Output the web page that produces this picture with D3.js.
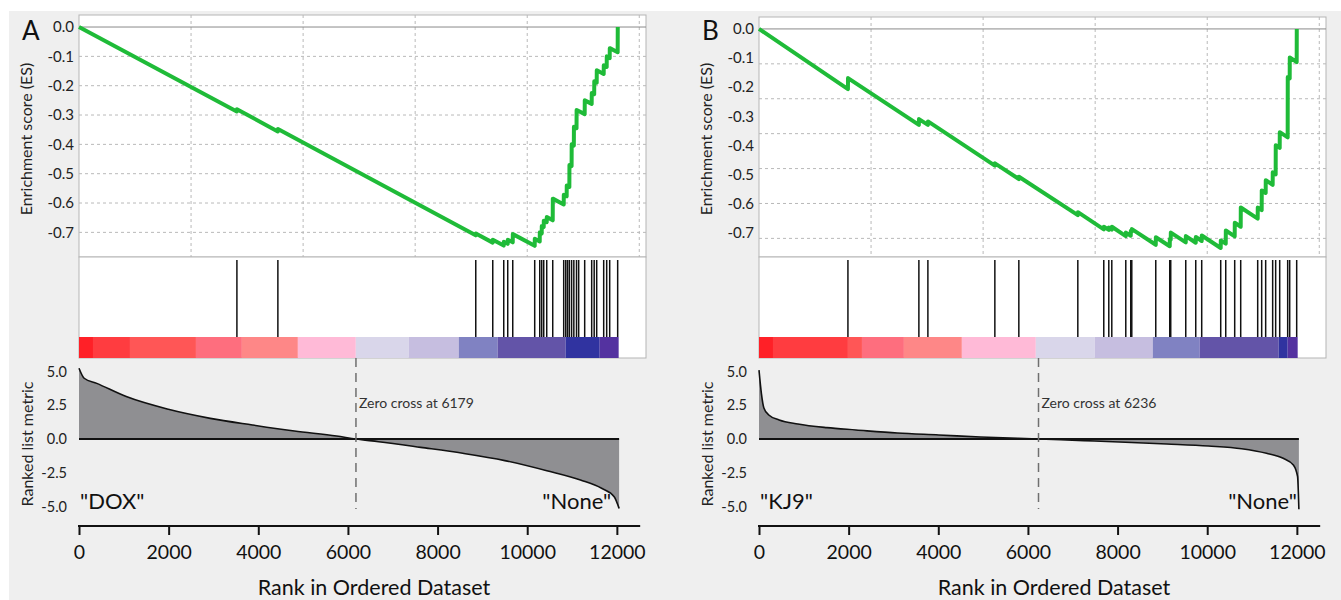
<!DOCTYPE html>
<html>
<head>
<meta charset="utf-8">
<script src="https://cdn.jsdelivr.net/npm/d3@7"></script>
<style>
  body { margin: 0; background: #fff; }
  svg { display: block; font-family: Lato, "Open Sans", sans-serif; }
</style>
</head>
<body>
<script>
// ---- panel A (DOX vs None) ----
const esA = [
  [0, 0], [3520, -0.288], [3523, -0.280], [4435, -0.356], [4438, -0.348],
  [8850, -0.710], [8853, -0.704], [9230, -0.735], [9232, -0.725],
  [9476, -0.745], [9478, -0.732], [9565, -0.739], [9567, -0.725],
  [9677, -0.734], [9679, -0.706], [10167, -0.746], [10169, -0.722],
  [10279, -0.731], [10281, -0.700], [10323, -0.704], [10325, -0.678],
  [10368, -0.682], [10370, -0.660], [10435, -0.665], [10437, -0.648],
  [10569, -0.659], [10571, -0.585], [10814, -0.605], [10816, -0.572],
  [10880, -0.577], [10882, -0.540], [10940, -0.545], [10942, -0.470],
  [10990, -0.474], [10992, -0.400], [11040, -0.404], [11042, -0.340],
  [11100, -0.345], [11102, -0.283], [11282, -0.297], [11284, -0.250],
  [11438, -0.262], [11440, -0.225], [11494, -0.229], [11496, -0.185],
  [11550, -0.190], [11552, -0.147], [11706, -0.160], [11708, -0.130],
  [11773, -0.136], [11775, -0.100], [11840, -0.106], [11842, -0.072],
  [12018, -0.086], [12020, 0.0]
];
const hitsA = [3523, 4437, 8852, 9231, 9476, 9565, 9677, 10167, 10279, 10323, 10368,
  10435, 10569, 10814, 10860, 10900, 10940, 10990, 11040, 11100, 11148, 11282,
  11438, 11494, 11550, 11706, 11773, 11840, 12018];
const metricA = [
  [0, 5.24], [115, 4.5], [397, 4.12], [1054, 3.14], [1993, 2.20], [2930, 1.53],
  [3869, 1.04], [4807, 0.59], [5746, 0.22], [6179, 0], [6685, -0.2], [7623, -0.62],
  [8562, -1.06], [9500, -1.6], [10438, -2.35], [11189, -3.04], [11659, -3.65],
  [11940, -4.27], [12050, -5.14]
];
const bandEdgesA = [0, 312, 1137, 2609, 3634, 4883, 6176, 7358, 8473, 9342, 10859, 11617, 12040];

// ---- panel B (KJ9 vs None) ----
const esB = [
  [0, 0], [1984, -0.207], [1986, -0.169], [3567, -0.330], [3569, -0.310],
  [3768, -0.330], [3770, -0.318], [5262, -0.470], [5264, -0.462],
  [5797, -0.516], [5799, -0.508], [7113, -0.640], [7115, -0.630],
  [7692, -0.689], [7694, -0.680], [7804, -0.691], [7806, -0.683],
  [7871, -0.690], [7873, -0.680], [8183, -0.712], [8185, -0.700],
  [8294, -0.711], [8296, -0.694], [8317, -0.696], [8319, -0.688],
  [8852, -0.742], [8854, -0.716], [9164, -0.747], [9166, -0.722],
  [9186, -0.724], [9188, -0.700], [9521, -0.734], [9523, -0.712],
  [9744, -0.735], [9746, -0.715], [9877, -0.729], [9879, -0.710],
  [10301, -0.753], [10303, -0.727], [10413, -0.738], [10415, -0.693],
  [10613, -0.713], [10615, -0.666], [10747, -0.680], [10749, -0.614],
  [11126, -0.652], [11128, -0.614], [11215, -0.623], [11217, -0.555],
  [11304, -0.564], [11306, -0.520], [11460, -0.536], [11462, -0.493],
  [11527, -0.500], [11529, -0.400], [11617, -0.409], [11619, -0.355],
  [11795, -0.373], [11797, -0.165], [11840, -0.170], [11842, -0.098],
  [11996, -0.114], [11998, 0.0]
];
const hitsB = [1984, 3567, 3768, 5262, 5797, 7113, 7692, 7804, 7871, 8183, 8294, 8317,
  8852, 9164, 9186, 9521, 9744, 9877, 10301, 10413, 10613, 10747, 11126, 11215,
  11304, 11460, 11527, 11617, 11795, 11840, 11996];
const metricB = [
  [0, 5.1], [53, 3.38], [109, 2.3], [218, 1.78], [450, 1.41], [867, 1.11],
  [1514, 0.84], [2163, 0.67], [3088, 0.44], [4013, 0.30], [4939, 0.15], [6236, 0],
  [7250, -0.12], [8176, -0.24], [9097, -0.37], [10027, -0.52], [10767, -0.72],
  [11322, -1.06], [11693, -1.43], [11922, -1.93], [12016, -2.79], [12034, -4.02],
  [12045, -5.2]
];
const bandEdgesB = [0, 312, 1984, 2297, 3233, 4526, 6176, 7492, 8785, 9833, 11594, 11795, 12018];

// shared
const bandColors = ['#ff2027', '#ff3c40', '#ff5656', '#fe6e7e', '#fe8787', '#ffbad7',
  '#d9d6ea', '#c6bee0', '#8082c2', '#6354a8', '#3033a0', '#5432a0'];
const esTicks = [0, -0.1, -0.2, -0.3, -0.4, -0.5, -0.6, -0.7];
const esGridA = [-0.1, -0.2, -0.3, -0.4, -0.5, -0.6, -0.7];
const esGridB = [-0.12, -0.24, -0.36, -0.48, -0.60, -0.72];
const rankGrid = [2500, 5000, 7500, 10000, 12500];
const metricTicks = [5, 2.5, 0, -2.5, -5];
const rankTicks = [0, 2000, 4000, 6000, 8000, 10000, 12000];

const panels = [
  { letter: 'A', left: 79, top: 15, es: esA, hits: hitsA, metric: metricA, bands: bandEdgesA,
    grid: esGridA, zero: 6179, pos: '"DOX"', neg: '"None"', noneGap: 8 },
  { letter: 'B', left: 759, top: 17, es: esB, hits: hitsB, metric: metricB, bands: bandEdgesB,
    grid: esGridB, zero: 6236, pos: '"KJ9"', neg: '"None"', noneGap: 2 }
];

const W = 1341, H = 600;
const plotW = 567;
const svg = d3.select('body').append('svg').attr('width', W).attr('height', H);

svg.append('rect').attr('x', 9).attr('y', 11).attr('width', W - 9).attr('height', H - 11)
  .attr('fill', '#efefef');

const fmt = d => d.toFixed(1);

function drawPanel(p) {
  const x = d3.scaleLinear().domain([0, 12650]).range([p.left, p.left + plotW]);
  const yES = d3.scaleLinear().domain([0.041, -0.784]).range([p.top, 257]);
  const yM = d3.scaleLinear().domain([6, -6]).range([358, 520]);
  const n = p.metric[p.metric.length - 1][0];
  const g = svg.append('g');

  // enrichment plot box
  g.append('rect')
    .attr('x', x(0)).attr('y', p.top).attr('width', plotW).attr('height', 257 - p.top)
    .attr('fill', '#fff').attr('stroke', '#b5b5b5');

  g.selectAll('.hgrid').data(p.grid).enter().append('line')
    .attr('x1', x(0)).attr('x2', x(12650))
    .attr('y1', d => yES(d)).attr('y2', d => yES(d))
    .attr('stroke', '#b9b9b9').attr('stroke-dasharray', '3,3');
  g.selectAll('.vgrid').data(rankGrid).enter().append('line')
    .attr('x1', d => x(d)).attr('x2', d => x(d))
    .attr('y1', p.top).attr('y2', 257)
    .attr('stroke', '#b9b9b9').attr('stroke-dasharray', '3,3');
  g.append('line')
    .attr('x1', x(0)).attr('x2', x(12650)).attr('y1', yES(0)).attr('y2', yES(0))
    .attr('stroke', '#8a8a8a');

  g.append('path').datum(p.es)
    .attr('d', d3.line().x(d => x(d[0])).y(d => yES(d[1])))
    .attr('fill', 'none').attr('stroke', '#1fbb38').attr('stroke-width', 4)
    .attr('stroke-linejoin', 'round');

  const ya = g.append('g').attr('transform', `translate(${x(0)},0)`)
    .call(d3.axisLeft(yES).tickValues(esTicks).tickFormat(fmt).tickSize(0).tickPadding(5));
  ya.select('.domain').remove();
  ya.selectAll('text').attr('font-size', 15).attr('fill', '#222').style('font-family', 'Lato');

  g.append('text')
    .attr('transform', `translate(${x(0) - 47},139) rotate(-90)`)
    .attr('text-anchor', 'middle').attr('font-size', 16).attr('fill', '#222')
    .text('Enrichment score (ES)');

  g.append('text').attr('x', x(0) - 57).attr('y', 40)
    .attr('font-size', 26).attr('fill', '#111').text(p.letter);

  // hits box
  g.append('rect')
    .attr('x', x(0)).attr('y', 257).attr('width', plotW).attr('height', 101)
    .attr('fill', '#fff').attr('stroke', '#b5b5b5');
  g.selectAll('.hit').data(p.hits).enter().append('line')
    .attr('x1', d => x(d)).attr('x2', d => x(d)).attr('y1', 260).attr('y2', 337)
    .attr('stroke', '#111').attr('stroke-width', 1.5);
  g.selectAll('.band').data(d3.pairs(p.bands)).enter().append('rect')
    .attr('x', d => x(d[0])).attr('width', d => x(d[1]) - x(d[0]))
    .attr('y', 337).attr('height', 21)
    .attr('fill', (d, i) => bandColors[i]);

  // ranked list metric
  g.append('path').datum(p.metric)
    .attr('d', d3.area().x(d => x(d[0])).y0(yM(0)).y1(d => yM(d[1])).curve(d3.curveMonotoneX))
    .attr('fill', '#8f8f92');
  g.append('path').datum(p.metric)
    .attr('d', d3.line().x(d => x(d[0])).y(d => yM(d[1])).curve(d3.curveMonotoneX))
    .attr('fill', 'none').attr('stroke', '#111').attr('stroke-width', 1.6);
  g.append('line')
    .attr('x1', x(0)).attr('x2', x(n)).attr('y1', yM(0)).attr('y2', yM(0))
    .attr('stroke', '#111').attr('stroke-width', 2);

  g.append('line')
    .attr('x1', x(p.zero)).attr('x2', x(p.zero)).attr('y1', 358).attr('y2', 509)
    .attr('stroke', '#6f6f6f').attr('stroke-width', 1.5).attr('stroke-dasharray', '9,6');
  g.append('text').attr('x', x(p.zero) + 3).attr('y', 408)
    .attr('font-size', 14).attr('fill', '#333').text('Zero cross at ' + p.zero);

  g.append('text').attr('x', x(0) + 1).attr('y', 509)
    .attr('font-size', 22).attr('fill', '#111').text(p.pos);
  g.append('text').attr('x', x(n) - p.noneGap).attr('y', 509).attr('text-anchor', 'end')
    .attr('font-size', 22).attr('fill', '#111').text(p.neg);

  const ym = g.append('g').attr('transform', `translate(${x(0)},0)`)
    .call(d3.axisLeft(yM).tickValues(metricTicks).tickFormat(fmt).tickSize(0).tickPadding(12));
  ym.select('.domain').remove();
  ym.selectAll('text').attr('font-size', 14.5).attr('fill', '#222').style('font-family', 'Lato');

  g.append('text')
    .attr('transform', `translate(${x(0) - 46},444) rotate(-90)`)
    .attr('text-anchor', 'middle').attr('font-size', 16).attr('fill', '#222')
    .text('Ranked list metric');

  // rank axis
  const xa = g.append('g').attr('transform', 'translate(0,526)')
    .call(d3.axisBottom(x).tickValues(rankTicks).tickFormat(d3.format('d'))
      .tickSize(9).tickSizeOuter(0).tickPadding(10));
  xa.select('.domain').remove();
  xa.selectAll('.tick line').attr('stroke', '#111').attr('stroke-width', 2);
  xa.selectAll('text').attr('font-size', 19.5).attr('fill', '#111').style('font-family', 'Lato');
  g.append('line').attr('x1', x(0) - 1).attr('x2', x(12520)).attr('y1', 526).attr('y2', 526)
    .attr('stroke', '#111').attr('stroke-width', 2);

  g.append('text').attr('x', x(0) + 295).attr('y', 595).attr('text-anchor', 'middle')
    .attr('font-size', 21.5).attr('fill', '#111').text('Rank in Ordered Dataset');
}

panels.forEach(drawPanel);
</script>
</body>
</html>
